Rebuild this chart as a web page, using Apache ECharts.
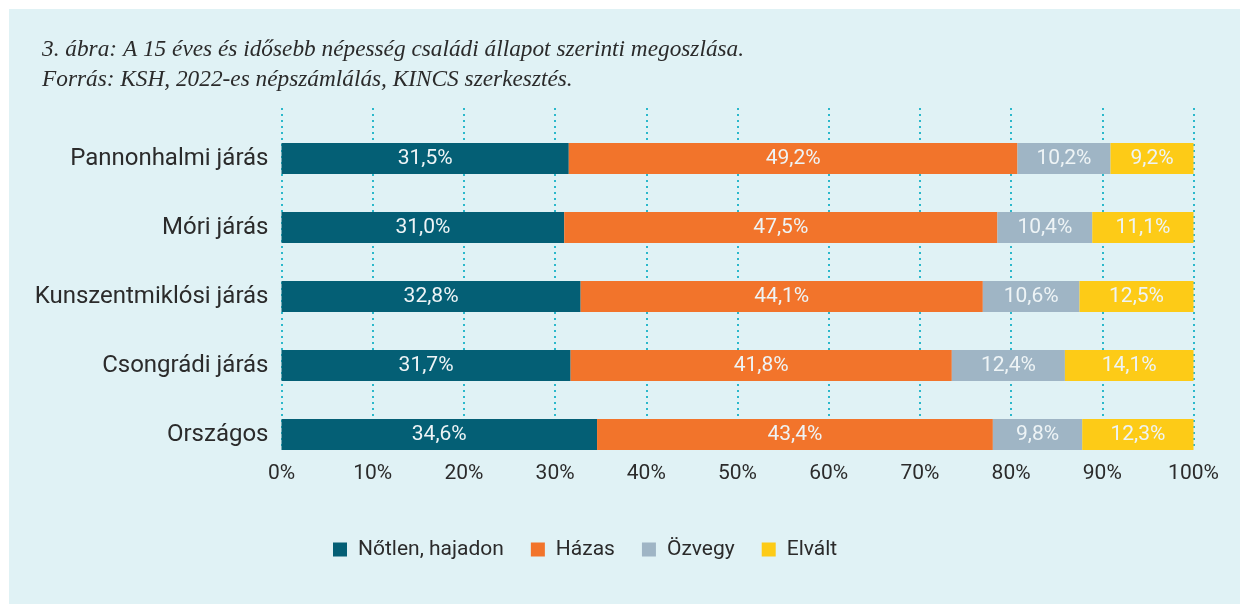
<!DOCTYPE html>
<html>
<head>
<meta charset="utf-8">
<script src="https://cdn.jsdelivr.net/npm/echarts@6/dist/echarts.min.js"></script>
<style>
    html, body { margin: 0; padding: 0; background: #ffffff; }
    #chart { position: absolute; left: 9px; top: 9px; width: 1231px; height: 595px; background: #e0f2f5; }
</style>
</head>
<body>
<div id="chart"></div>
<script>
const categories = ['Pannonhalmi járás', 'Móri járás', 'Kunszentmiklósi járás', 'Csongrádi járás', 'Országos'];
const notlen = [31.5, 31.0, 32.8, 31.7, 34.6];
const hazas = [49.2, 47.5, 44.1, 41.8, 43.4];
const ozvegy = [10.2, 10.4, 10.6, 12.4, 9.8];
const elvalt = [9.2, 11.1, 12.5, 14.1, 12.3];
const seriesNames = ['Nőtlen, hajadon', 'Házas', 'Özvegy', 'Elvált'];
const colors = ['#045f75', '#f2742b', '#9fb5c5', '#fdcb17'];

const chart = echarts.init(document.getElementById('chart'));

const makeSeries = (name, data, color) => ({
    name: name,
    type: 'bar',
    stack: 'total',
    xAxisIndex: 0,
    yAxisIndex: 0,
    data: data,
    barWidth: 31,
    itemStyle: { color: color },
    label: {
        show: true,
        position: 'inside',
        color: '#eef4f6',
        fontFamily: 'Roboto',
        fontSize: 21,
        formatter: (p) => p.value.toFixed(1).replace('.', ',') + '%'
    }
});

const option = {
    animation: false,
    textStyle: { fontFamily: 'Roboto' },
    title: {
        text: '3. ábra: A 15 éves és idősebb népesség családi állapot szerinti megoszlása.\nForrás: KSH, 2022-es népszámlálás, KINCS szerkesztés.',
        left: 28,
        top: 21,
        textStyle: {
            fontFamily: 'Liberation Serif',
            fontStyle: 'italic',
            fontWeight: 'normal',
            fontSize: 23.3,
            lineHeight: 30,
            color: '#2b2b2b'
        }
    },
    legend: {
        left: 319,
        top: 525,
        itemWidth: 14,
        itemHeight: 14,
        itemGap: 27,
        icon: 'rect',
        textStyle: { fontSize: 21, color: '#2b2b2b', fontFamily: 'Roboto', padding: [0, 0, 0, 6] },
        data: seriesNames
    },
    grid: [
        { left: 272.5, right: 46.5, top: 115, height: 345 },
        { left: 272.5, right: 46.5, top: 99, height: 342 }
    ],
    xAxis: [
        {
            gridIndex: 0, type: 'value', min: 0, max: 100,
            show: false
        },
        {
            gridIndex: 1, type: 'value', min: 0, max: 100, interval: 10,
            axisLine: { show: false },
            axisTick: { show: false },
            axisLabel: { formatter: '{value}%', fontSize: 21, color: '#2b2b2b', margin: 13 },
            splitLine: { show: true, lineStyle: { color: '#2bb8cb', type: [2, 4], width: 2 } }
        }
    ],
    yAxis: [
        {
            gridIndex: 0, type: 'category', data: categories, inverse: true,
            axisLine: { show: false },
            axisTick: { show: false },
            axisLabel: { fontSize: 24, color: '#2b2b2b', margin: 13 }
        },
        {
            gridIndex: 1, type: 'value', show: false
        }
    ],
    series: [
        makeSeries(seriesNames[0], notlen, colors[0]),
        makeSeries(seriesNames[1], hazas, colors[1]),
        makeSeries(seriesNames[2], ozvegy, colors[2]),
        makeSeries(seriesNames[3], elvalt, colors[3])
    ]
};
chart.setOption(option);
</script>
</body>
</html>
